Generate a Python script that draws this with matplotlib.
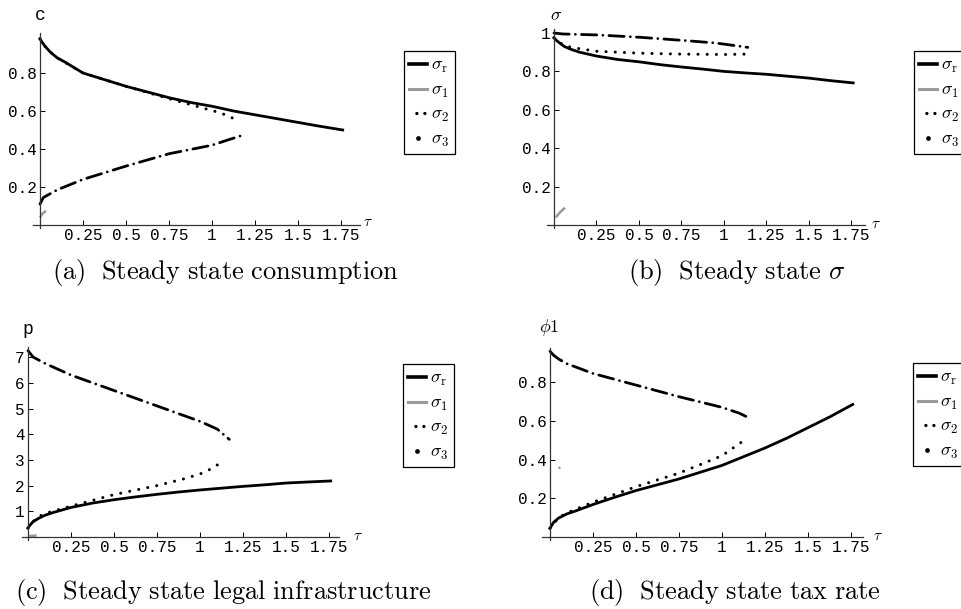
import matplotlib
matplotlib.use("Agg")
import matplotlib.pyplot as plt
from matplotlib.lines import Line2D

plt.rcParams['mathtext.fontset'] = 'cm'

W, H = 962, 609

# ---- data ----
# (a) steady state consumption c
tau_a_r = [0, 0.01, 0.03, 0.06, 0.1, 0.15, 0.25, 0.375, 0.5, 0.625, 0.75, 0.875, 1.0, 1.125, 1.25, 1.375, 1.5, 1.625, 1.76]
c_r = [0.98, 0.965, 0.94, 0.91, 0.88, 0.855, 0.80, 0.765, 0.73, 0.70, 0.67, 0.645, 0.625, 0.60, 0.58, 0.56, 0.54, 0.52, 0.50]
tau_a_1 = [0, 0.015, 0.035]
c_1 = [0.04, 0.06, 0.075]
tau_a_2 = [0, 0.03, 0.06, 0.1, 0.25, 0.5, 0.75, 0.85, 0.95, 1.05, 1.14]
c_2 = [0.98, 0.94, 0.91, 0.88, 0.80, 0.73, 0.665, 0.64, 0.615, 0.59, 0.555]
tau_a_3 = [0, 0.02, 0.05, 0.1, 0.25, 0.5, 0.75, 1.0, 1.1, 1.17]
c_3 = [0.11, 0.145, 0.16, 0.185, 0.24, 0.31, 0.375, 0.42, 0.45, 0.47]

# (b) steady state sigma
tau_b_r = [0, 0.01, 0.03, 0.06, 0.1, 0.15, 0.25, 0.375, 0.5, 0.625, 0.75, 0.875, 1.0, 1.125, 1.25, 1.375, 1.5, 1.625, 1.76]
s_r = [0.975, 0.965, 0.95, 0.93, 0.915, 0.90, 0.88, 0.862, 0.85, 0.835, 0.823, 0.812, 0.80, 0.792, 0.785, 0.775, 0.765, 0.752, 0.74]
tau_b_1 = [0.01, 0.04, 0.065]
s_1 = [0.04, 0.07, 0.09]
tau_b_2 = [0, 0.03, 0.1, 0.25, 0.5, 0.75, 1.0, 1.13]
s_2 = [0.975, 0.95, 0.925, 0.905, 0.895, 0.89, 0.888, 0.89]
tau_b_3 = [0, 0.05, 0.25, 0.5, 0.75, 0.95, 1.1, 1.14]
s_3 = [1.0, 0.995, 0.99, 0.978, 0.962, 0.948, 0.93, 0.925]

# (c) steady state legal infrastructure p
tau_c_r = [0, 0.01, 0.03, 0.06, 0.1, 0.15, 0.25, 0.375, 0.5, 0.625, 0.75, 0.875, 1.0, 1.125, 1.25, 1.375, 1.5, 1.625, 1.76]
p_r = [0.35, 0.45, 0.6, 0.72, 0.85, 0.96, 1.15, 1.32, 1.45, 1.56, 1.66, 1.75, 1.83, 1.9, 1.97, 2.03, 2.1, 2.14, 2.18]
tau_c_1 = [0, 0.05]
p_1 = [0.03, 0.06]
tau_c_2 = [0, 0.05, 0.1, 0.25, 0.5, 0.75, 0.9, 1.0, 1.08, 1.14]
p_2 = [0.35, 0.75, 0.92, 1.2, 1.65, 2.0, 2.25, 2.45, 2.7, 3.0]
tau_c_3 = [0, 0.03, 0.1, 0.25, 0.5, 0.75, 1.0, 1.1, 1.17]
p_3 = [7.25, 7.0, 6.75, 6.3, 5.7, 5.1, 4.5, 4.2, 3.8]

# (d) steady state tax rate phi1
tau_d_r = [0, 0.02, 0.05, 0.1, 0.15, 0.25, 0.375, 0.5, 0.625, 0.75, 0.875, 1.0, 1.125, 1.25, 1.375, 1.5, 1.625, 1.76]
f_r = [0.045, 0.075, 0.098, 0.12, 0.135, 0.168, 0.205, 0.24, 0.27, 0.30, 0.335, 0.37, 0.415, 0.46, 0.51, 0.565, 0.62, 0.685]
tau_d_1 = [0.05, 0.06]
f_1 = [0.355, 0.36]
tau_d_2 = [0, 0.05, 0.1, 0.25, 0.5, 0.75, 1.0, 1.145]
f_2 = [0.045, 0.1, 0.125, 0.18, 0.26, 0.33, 0.42, 0.51]
tau_d_3 = [0, 0.02, 0.05, 0.1, 0.25, 0.5, 0.75, 1.0, 1.1, 1.17]
f_3 = [0.96, 0.94, 0.92, 0.895, 0.845, 0.785, 0.725, 0.67, 0.64, 0.61]

xticks = [0.25, 0.5, 0.75, 1.0, 1.25, 1.5, 1.75]
xticklabels = ["0.25", "0.5", "0.75", "1", "1.25", "1.5", "1.75"]
leg_labels = [r"$\sigma_{\mathrm{r}}$", r"$\sigma_1$", r"$\sigma_2$", r"$\sigma_3$"]

DOT = (0, (0.01, 3.0))
DASHDOT = (0, (5.5, 2.2, 0.01, 2.2))
TICKFONT = dict(family="Liberation Mono", fontsize=11.5)

fig = plt.figure(figsize=(W / 100, H / 100), dpi=100)


def make_ax(ox, oy, sx, sy, xlim, ylim):
    # ox, oy: pixel position of data origin; sx, sy: pixels per unit
    x0 = ox + xlim[0] * sx
    x1 = ox + xlim[1] * sx
    ytop = oy - ylim[1] * sy
    ybot = oy - ylim[0] * sy
    ax = fig.add_axes([x0 / W, 1 - ybot / H, (x1 - x0) / W, (ybot - ytop) / H])
    ax.set_xlim(xlim)
    ax.set_ylim(ylim)
    for s in ["top", "right"]:
        ax.spines[s].set_visible(False)
    ax.spines["left"].set_position(("data", 0))
    ax.spines["bottom"].set_position(("data", 0))
    for s in ["left", "bottom"]:
        ax.spines[s].set_linewidth(0.9)
        ax.spines[s].set_color("#333333")
    ax.patch.set_alpha(0)
    ax.tick_params(direction="in", length=3.5, width=0.7, pad=2.5)
    ax.set_xticks(xticks)
    ax.set_xticklabels(xticklabels, **TICKFONT)
    return ax


def draw(ax, t_r, y_r, t_1, y_1, t_2, y_2, t_3, y_3):
    ax.plot(t_1, y_1, color="#9a9a9a", lw=1.8, solid_capstyle="butt")
    ax.plot(t_2, y_2, color="black", lw=2.2, linestyle=DOT, dash_capstyle="round")
    ax.plot(t_3, y_3, color="black", lw=2.0, linestyle=DASHDOT, dash_capstyle="round")
    ax.plot(t_r, y_r, color="black", lw=2.0)


def legend(ax, x, y):
    handles = [
        Line2D([], [], color="black", lw=2.6),
        Line2D([], [], color="#9a9a9a", lw=2.2),
        Line2D([], [], color="black", lw=2.4, linestyle=(0.2, (0.01, 2.4)), dash_capstyle="round"),
        Line2D([], [], color="black", ls="none", marker="o", ms=2.4),
    ]
    leg = ax.legend(handles, leg_labels, loc="upper left",
                    bbox_to_anchor=(x / W, 1 - y / H), bbox_transform=fig.transFigure,
                    fancybox=False, edgecolor="black", framealpha=1, fontsize=13,
                    handlelength=0.95, handletextpad=0.25, labelspacing=0.3,
                    borderpad=0.3, borderaxespad=0)
    leg.get_frame().set_linewidth(0.9)
    leg._legend_box.sep = 0


def label(x, y, s, **kw):
    fig.text(x / W, 1 - y / H, s, ha="center", va="center", **kw)


# (a)
ax = make_ax(40, 225, 172, 190, (-0.04, 1.86), (-0.015, 1.01))
ax.set_yticks([0.2, 0.4, 0.6, 0.8])
ax.set_yticklabels(["0.2", "0.4", "0.6", "0.8"], **TICKFONT)
draw(ax, tau_a_r, c_r, tau_a_1, c_1, tau_a_2, c_2, tau_a_3, c_3)
legend(ax, 404, 51)
label(40, 15, "c", family="Liberation Mono", fontsize=13)
label(368, 221, r"$\tau$", fontsize=11)
label(225, 272, r"$\mathrm{(a)\ \ Steady\ state\ consumption}$", fontsize=19)

# (b)
ax = make_ax(554, 225, 170, 192, (-0.04, 1.83), (-0.015, 1.02))
ax.set_yticks([0.2, 0.4, 0.6, 0.8, 1.0])
ax.set_yticklabels(["0.2", "0.4", "0.6", "0.8", "1"], **TICKFONT)
draw(ax, tau_b_r, s_r, tau_b_1, s_1, tau_b_2, s_2, tau_b_3, s_3)
legend(ax, 914, 51)
label(556, 15, r"$\sigma$", fontsize=13)
label(876, 223, r"$\tau$", fontsize=11)
label(737, 272, r"$\mathrm{(b)\ \ Steady\ state\ }\sigma$", fontsize=19)

# (c)
ax = make_ax(28, 537, 172, 25.7, (-0.035, 1.81), (-0.1, 7.4))
ax.set_yticks([1, 2, 3, 4, 5, 6, 7])
ax.set_yticklabels([str(v) for v in range(1, 8)], **TICKFONT)
draw(ax, tau_c_r, p_r, tau_c_1, p_1, tau_c_2, p_2, tau_c_3, p_3)
legend(ax, 403, 364)
label(28, 330, "p", family="Liberation Mono", fontsize=13)
label(358, 536, r"$\tau$", fontsize=11)
label(223, 593, r"$\mathrm{(c)\ \ Steady\ state\ legal\ infrastructure}$", fontsize=19)

# (d)
ax = make_ax(550, 537, 172, 193.5, (-0.045, 1.82), (-0.015, 0.975))
ax.set_yticks([0.2, 0.4, 0.6, 0.8])
ax.set_yticklabels(["0.2", "0.4", "0.6", "0.8"], **TICKFONT)
draw(ax, tau_d_r, f_r, tau_d_1, f_1, tau_d_2, f_2, tau_d_3, f_3)
legend(ax, 913, 363)
label(549, 328, r"$\phi 1$", fontsize=13)
label(878, 536, r"$\tau$", fontsize=11)
label(735, 593, r"$\mathrm{(d)\ \ Steady\ state\ tax\ rate}$", fontsize=19)

fig.savefig("out.png", dpi=100)
